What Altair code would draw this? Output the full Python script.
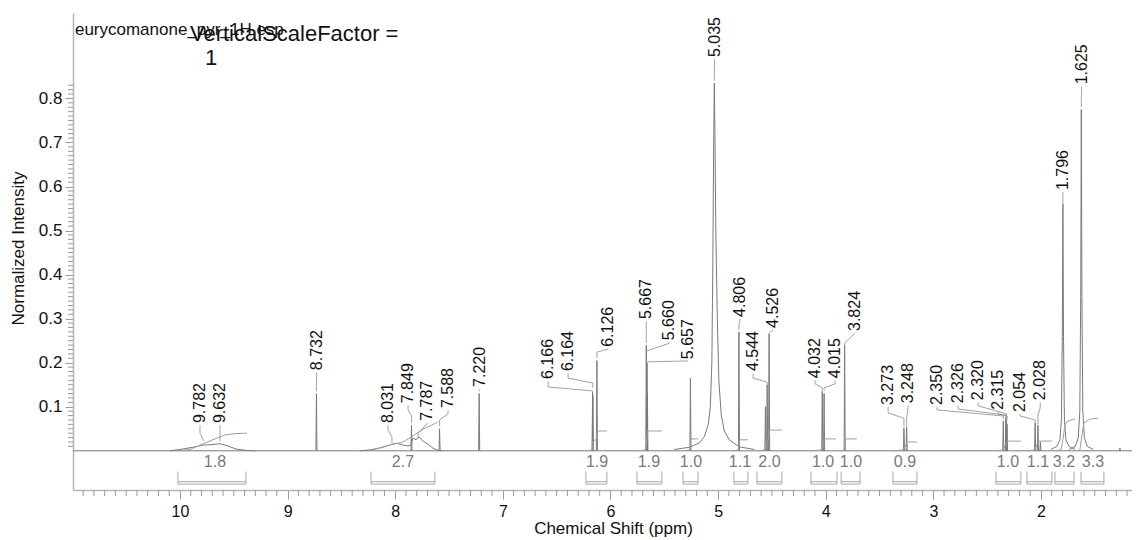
import altair as alt
import pandas as pd

# ---------------- data ----------------
# sharp resonances: position (ppm) and apex intensity
line_ppm = [8.732, 7.849, 7.588, 7.220, 6.166, 6.164, 6.126, 5.667, 5.660, 5.657,
            5.257, 4.806, 4.560, 4.544, 4.526, 4.032, 4.015, 3.824, 3.273, 3.248,
            2.350, 2.326, 2.320, 2.315, 2.054, 2.028, 2.005, 1.266]
line_int = [0.130, 0.058, 0.050, 0.130, 0.133, 0.125, 0.205, 0.240, 0.200, 0.130,
            0.165, 0.270, 0.100, 0.150, 0.265, 0.135, 0.130, 0.240, 0.052, 0.055,
            0.068, 0.075, 0.070, 0.060, 0.063, 0.058, 0.020, 0.006]

# broad features traced point by point
hump_a_ppm = [10.093, 10.000, 9.879, 9.786, 9.703, 9.628, 9.554, 9.480, 9.387, 9.300]
hump_a_int = [0.000, 0.003, 0.008, 0.013, 0.014, 0.016, 0.011, 0.004, 0.001, 0.000]
hump_b_ppm = [8.328, 8.235, 8.114, 8.030, 7.984, 7.928, 7.881, 7.854, 7.835, 7.807,
              7.779, 7.742, 7.696, 7.649, 7.603, 7.560]
hump_b_int = [0.000, 0.002, 0.008, 0.015, 0.017, 0.013, 0.011, 0.013, 0.029, 0.025,
              0.031, 0.022, 0.015, 0.006, 0.001, 0.000]
water_ppm = [5.407, 5.267, 5.174, 5.128, 5.091, 5.072, 5.058, 5.049, 5.0415, 5.035,
             5.0285, 5.021, 5.007, 4.993, 4.970, 4.942, 4.896, 4.803, 4.663]
water_int = [0.003, 0.008, 0.018, 0.032, 0.060, 0.100, 0.200, 0.420, 0.680, 0.835,
             0.700, 0.500, 0.300, 0.160, 0.080, 0.045, 0.025, 0.009, 0.003]
me1_ppm = [1.908, 1.852, 1.824, 1.810, 1.8016, 1.796, 1.7904, 1.782, 1.768, 1.740, 1.684]
me1_int = [0.003, 0.010, 0.025, 0.070, 0.260, 0.560, 0.260, 0.070, 0.025, 0.010, 0.003]
me2_ppm = [1.737, 1.681, 1.653, 1.639, 1.6306, 1.625, 1.6194, 1.611, 1.597, 1.569, 1.513]
me2_int = [0.003, 0.010, 0.030, 0.090, 0.350, 0.775, 0.350, 0.090, 0.030, 0.010, 0.003]

# peak labels: text, label position, label foot, leader knee, peak, bend, tip
lab_text = ["9.782", "9.632", "8.732", "8.031", "7.849", "7.787", "7.588", "7.220",
            "6.166", "6.164", "6.126", "5.667", "5.660", "5.657", "5.035", "4.806",
            "4.544", "4.526", "4.032", "4.015", "3.824", "3.273", "3.248", "2.350",
            "2.326", "2.320", "2.315", "2.054", "2.028", "1.796", "1.625"]
lab_ppm = [9.814, 9.628, 8.730, 8.067, 7.881, 7.704, 7.509, 7.212,
           6.580, 6.394, 6.022, 5.667, 5.455, 5.279, 5.032, 4.796,
           4.675, 4.489, 4.099, 3.913, 3.727, 3.420, 3.234, 2.965,
           2.770, 2.584, 2.398, 2.193, 2.007, 1.796, 1.622]
lab_foot = [0.063, 0.063, 0.183, 0.063, 0.108, 0.068, 0.097, 0.145,
            0.163, 0.181, 0.236, 0.299, 0.251, 0.208, 0.894, 0.304,
            0.181, 0.279, 0.165, 0.165, 0.272, 0.104, 0.108, 0.104,
            0.108, 0.115, 0.093, 0.088, 0.115, 0.592, 0.832]
lead_knee = [0.040, 0.050, 0.170, 0.047, 0.093, 0.061, 0.084, 0.140,
             0.145, 0.165, 0.231, 0.290, 0.244, 0.204, 0.880, 0.295,
             0.165, 0.274, 0.152, 0.152, 0.267, 0.086, 0.100, 0.093,
             0.095, 0.102, 0.084, 0.079, 0.097, 0.580, 0.820]
lead_peak = [9.782, 9.628, 8.732, 8.030, 7.849, 7.787, 7.588, 7.220,
             6.166, 6.164, 6.126, 5.667, 5.660, 5.657, 5.035, 4.806,
             4.544, 4.526, 4.032, 4.015, 3.824, 3.273, 3.248, 2.350,
             2.326, 2.320, 2.315, 2.054, 2.028, 1.796, 1.625]
lead_bend = [0.024, 0.030, 0.160, 0.031, 0.079, 0.040, 0.070, 0.137,
             0.136, 0.154, 0.224, 0.260, 0.227, 0.202, 0.860, 0.285,
             0.156, 0.267, 0.143, 0.143, 0.245, 0.074, 0.074, 0.079,
             0.081, 0.084, 0.079, 0.070, 0.081, 0.570, 0.800]
lead_tip = [0.022, 0.022, 0.135, 0.018, 0.063, 0.029, 0.056, 0.135,
            0.134, 0.143, 0.210, 0.245, 0.227, 0.202, 0.840, 0.275,
            0.150, 0.265, 0.137, 0.137, 0.240, 0.055, 0.057, 0.072,
            0.075, 0.074, 0.070, 0.063, 0.060, 0.560, 0.780]

# integration regions
int_value = ["1.8", "2.7", "1.9", "1.9", "1.0", "1.1", "2.0", "1.0", "1.0", "0.9",
             "1.0", "1.1", "3.2", "3.3"]
int_from = [10.019, 8.225, 6.228, 5.754, 5.326, 4.853, 4.639, 4.137, 3.857, 3.375,
            2.418, 2.130, 1.870, 1.628]
int_to = [9.387, 7.631, 6.033, 5.522, 5.187, 4.723, 4.407, 3.895, 3.681, 3.152,
          2.186, 1.898, 1.693, 1.415]
int_label_ppm = [9.675, 7.928, 6.125, 5.642, 5.252, 4.797, 4.523, 4.025, 3.765, 3.264,
                 2.307, 2.028, 1.786, 1.517]

# integral curves
curve_id = (["a"] * 7 + ["b"] * 6 + ["c"] * 6 + ["d"] * 5 + ["e"] * 4 + ["f"] * 4 +
            ["g"] * 5 + ["h"] * 4 + ["i"] * 4 + ["j"] * 4 + ["k"] * 4 + ["l"] * 4 +
            ["m"] * 6 + ["n"] * 6)
curve_ppm = [10.019, 9.907, 9.814, 9.675, 9.582, 9.489, 9.377,
             8.225, 8.114, 7.928, 7.835, 7.742, 7.603,
             6.228, 6.170, 6.163, 6.128, 6.123, 6.033,
             5.754, 5.672, 5.662, 5.655, 5.522,
             5.326, 5.262, 5.252, 5.187,
             4.853, 4.810, 4.800, 4.723,
             4.639, 4.565, 4.540, 4.520, 4.407,
             4.137, 4.036, 4.012, 3.905,
             3.857, 3.828, 3.818, 3.710,
             3.375, 3.278, 3.243, 3.152,
             2.418, 2.355, 2.310, 2.186,
             2.130, 2.060, 2.020, 1.898,
             1.870, 1.814, 1.796, 1.777, 1.749, 1.684,
             1.650, 1.638, 1.619, 1.601, 1.545, 1.470]
curve_int = [0.000, 0.003, 0.013, 0.027, 0.036, 0.039, 0.040,
             0.000, 0.009, 0.020, 0.034, 0.049, 0.065,
             0.000, 0.002, 0.022, 0.026, 0.045, 0.045,
             0.000, 0.002, 0.030, 0.045, 0.045,
             0.000, 0.002, 0.027, 0.027,
             0.000, 0.002, 0.025, 0.025,
             0.000, 0.002, 0.020, 0.047, 0.047,
             0.000, 0.002, 0.027, 0.027,
             0.000, 0.002, 0.027, 0.027,
             0.000, 0.002, 0.020, 0.020,
             0.000, 0.002, 0.022, 0.022,
             0.000, 0.002, 0.022, 0.022,
             0.000, 0.002, 0.025, 0.059, 0.068, 0.072,
             0.000, 0.002, 0.036, 0.063, 0.072, 0.074]

# axis ticks
x_major = [10, 9, 8, 7, 6, 5, 4, 3, 2]
x_minor = [round(10.9 - 0.1 * k, 1) for k in range(98) if (109 - k) % 10 != 0]
y_major = [0.1, 0.2, 0.3, 0.4, 0.5, 0.6, 0.7, 0.8]
y_minor = [round(0.01 * k, 2) for k in range(84) if k % 10 != 0]

# ---------------- tables ----------------
def rows(gid, xs, ys):
    return [{"g": gid, "i": k, "ppm": x, "v": y} for k, (x, y) in enumerate(zip(xs, ys))]

spec = rows("base", [11.3, 1.0], [0.0, 0.0])
for k, (p, h) in enumerate(zip(line_ppm, line_int)):
    spec += rows(f"s{k}", [p + 0.005, p, p - 0.005], [0.0, h, 0.0])
spec += rows("ha", hump_a_ppm, hump_a_int)
spec += rows("hb", hump_b_ppm, hump_b_int)
spec += rows("w", water_ppm, water_int)
spec += rows("m1", me1_ppm, me1_int)
spec += rows("m2", me2_ppm, me2_int)
spec_df = pd.DataFrame(spec)

lead = []
for k in range(len(lab_text)):
    lead += rows(f"L{k}",
                 [lab_ppm[k], lab_ppm[k], lead_peak[k], lead_peak[k]],
                 [lab_foot[k] - 0.005, lead_knee[k], lead_bend[k], lead_tip[k]])
lead_df = pd.DataFrame(lead)
lab_df = pd.DataFrame({"ppm": lab_ppm, "v": lab_foot, "t": lab_text})

curve_df = pd.DataFrame({"g": curve_id, "ppm": curve_ppm, "v": curve_int})
curve_df["i"] = range(len(curve_df))

ends = pd.DataFrame({"ppm": int_from + int_to, "v": [-0.047] * (2 * len(int_from)),
                     "v2": [-0.0755] * (2 * len(int_from))})
bars = pd.DataFrame({"ppm": int_from * 2, "ppm2": int_to * 2,
                     "v": [-0.0701] * len(int_from) + [-0.0755] * len(int_from)})
int_lab = pd.DataFrame({"ppm": int_label_ppm, "v": [-0.025] * len(int_value), "t": int_value})

notes = pd.DataFrame({"ppm": [10.976, 9.907, 9.768], "v": [0.945, 0.930, 0.876],
                      "t": ["eurycomanone_pyr_1H.esp", "VerticalScaleFactor =", "1"],
                      "s": [17, 22, 22]})

xminor_df = pd.DataFrame({"ppm": x_minor})
yminor_df = pd.DataFrame({"v": y_minor})

# ---------------- chart ----------------
FONT = "Liberation Sans"
xs = alt.Scale(domain=[1.154, 10.994], reverse=True, nice=False, zero=False)
ys = alt.Scale(domain=[-0.089, 0.994], nice=False, zero=False)
TICK = "#9a9a9a"

x_axis = alt.Axis(
    values=x_major, format="d", tickSize=9, labelOverlap=False, labelFlush=False,
    labelFont=FONT, labelFontSize=16, labelColor="#111111", labelPadding=4,
    domainColor="#b4b4b4", domainWidth=1.5, tickColor=TICK, tickWidth=1, grid=False,
    title="Chemical Shift (ppm)", titleFont=FONT, titleFontSize=17,
    titleFontWeight="normal", titleColor="#111111", titleX=540, titleY=38,
    titleBaseline="middle", titleAlign="center")
y_axis = alt.Axis(
    values=y_major, format=".1f", tickSize=8, labelOverlap=False, labelFlush=False,
    labelFont=FONT, labelFontSize=17, labelColor="#111111", labelPadding=3,
    domainColor="#b4b4b4", domainWidth=1.5, tickColor=TICK, tickWidth=1, grid=False,
    title="Normalized Intensity", titleFont=FONT, titleFontSize=17,
    titleFontWeight="normal", titleColor="#111111", titleX=-55, titleY=235,
    titleAngle=270, titleBaseline="middle", titleAlign="center")

# every layer carries the same axis definition so they merge into one
X = alt.X("ppm:Q", scale=xs, axis=x_axis)
Y = alt.Y("v:Q", scale=ys, axis=y_axis)

spectrum = alt.Chart(spec_df).mark_line(color="#7a7a7a", strokeWidth=1, clip=True).encode(
    x=X, y=Y, detail="g:N", order="i:Q")

curves = alt.Chart(curve_df).mark_line(color="#a0a0a0", strokeWidth=1).encode(
    x=X, y=Y, detail="g:N", order="i:Q")

leaders = alt.Chart(lead_df).mark_line(color="#8a8a8a", strokeWidth=0.8).encode(
    x=X, y=Y, detail="g:N", order="i:Q")

labels = alt.Chart(lab_df).mark_text(angle=270, align="left", baseline="middle",
                                     font=FONT, fontSize=16, color="#111111").encode(
    x=X, y=Y, text="t:N")

bracket_ends = alt.Chart(ends).mark_rule(color="#a8a8a8", strokeWidth=1).encode(
    x=X, y=Y, y2="v2:Q")

bracket_bars = alt.Chart(bars).mark_rule(color="#a8a8a8", strokeWidth=1).encode(
    x=X, x2="ppm2:Q", y=Y)

int_text = alt.Chart(int_lab).mark_text(font=FONT, fontSize=16, color="#7a7a7a",
                                        baseline="middle").encode(
    x=X, y=Y, text="t:N")

note_text = alt.Chart(notes).mark_text(font=FONT, align="left", baseline="alphabetic",
                                       color="#111111").encode(
    x=X, y=Y, text="t:N", size=alt.Size("s:Q", scale=None, legend=None))

x_minor_ticks = alt.Chart(xminor_df).mark_rule(color=TICK, strokeWidth=1).encode(
    x=X, y=alt.value(477), y2=alt.value(483))

y_minor_ticks = alt.Chart(yminor_df).mark_rule(color=TICK, strokeWidth=1).encode(
    y=Y, x=alt.value(-5), x2=alt.value(0))

chart = alt.layer(spectrum, curves, leaders, labels, bracket_ends, bracket_bars,
                  int_text, note_text, x_minor_ticks, y_minor_ticks).properties(
    width=1059, height=477,
    autosize=alt.AutoSizeParams(type="none"),
    padding={"left": 65, "top": 5, "right": 0, "bottom": 50},
).configure_view(strokeWidth=0)

chart.save("out.html", embed_options={"renderer": "svg", "actions": False})
